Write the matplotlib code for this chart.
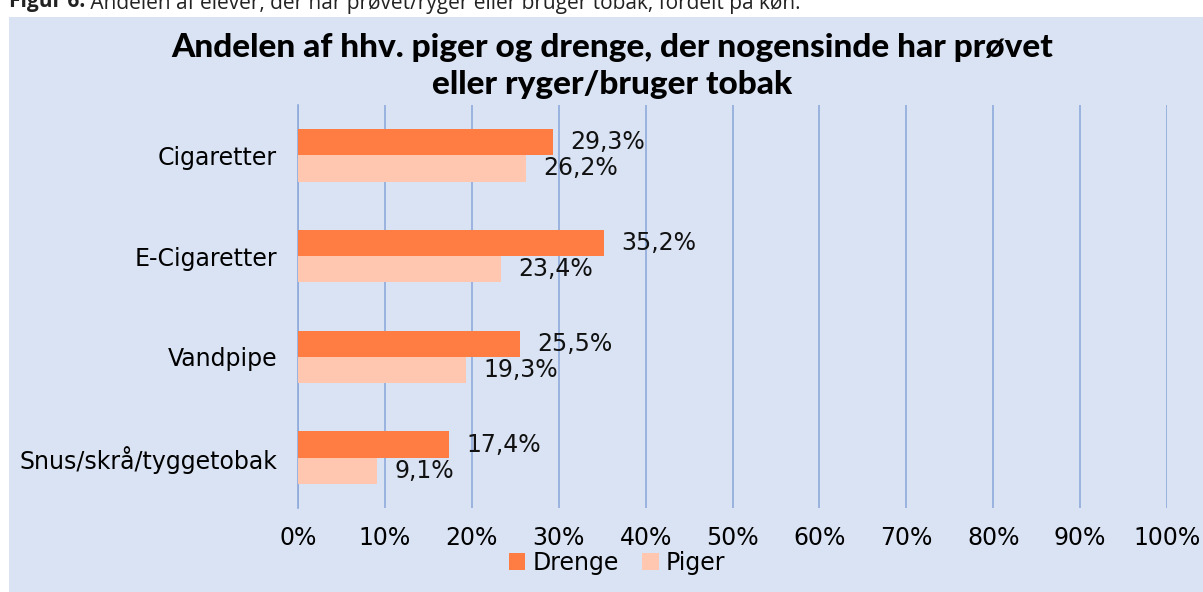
import matplotlib
matplotlib.use("Agg")
import matplotlib.pyplot as plt
from matplotlib.patches import Rectangle
from matplotlib.text import Annotation
from matplotlib.ticker import MultipleLocator, FuncFormatter

categories = ["Cigaretter", "E-Cigaretter", "Vandpipe", "Snus/skrå/tyggetobak"]
drenge = [29.3, 35.2, 25.5, 17.4]
piger = [26.2, 23.4, 19.3, 9.1]
series_names = ["Drenge", "Piger"]
title = "Andelen af hhv. piger og drenge, der nogensinde har prøvet\neller ryger/bruger tobak"
caption_bold = "Figur 6:"
caption = " Andelen af elever, der har prøvet/ryger eller bruger tobak, fordelt på køn."

c_dr = "#FF7C43"
c_pi = "#FFC6B0"
bg = "#DAE3F3"
grid_c = "#8FAADC"

plt.rcParams['font.family'] = ['DejaVu Sans']
FS = 17

fig = plt.figure(figsize=(12.03, 5.92), dpi=100)
fig.patch.set_facecolor("white")
fig.patches.append(Rectangle((9/1203, 0), 1 - 9/1203, 1 - 17/592, transform=fig.transFigure,
                             facecolor=bg, edgecolor="none", zorder=-10))
cb = fig.text(9/1203, 1 - 2/592, caption_bold, fontsize=15, va="center", ha="left", color="#222222",
              fontweight="bold", family=['Open Sans', 'DejaVu Sans'])
fig.add_artist(Annotation(caption, xy=(1, 0.5), xycoords=cb, va="center", ha="left",
                          fontsize=15, color="#222222", family=['Open Sans', 'DejaVu Sans']))

ax = fig.add_axes([298/1203, 1 - 508/592, (1167 - 298)/1203, (508 - 105)/592])
ax.set_zorder(1)
ax.set_facecolor("none")
h = 0.26
y = list(range(len(categories)))
ax.barh([i - h/2 for i in y], drenge, height=h, color=c_dr, zorder=3, label=series_names[0])
ax.barh([i + h/2 for i in y], piger, height=h, color=c_pi, zorder=3, label=series_names[1])
for i in y:
    ax.text(drenge[i] + 2.0, i - h/2, f"{drenge[i]:.1f}%".replace(".", ","), va="center", ha="left",
            fontsize=FS, color="#111111")
    ax.text(piger[i] + 2.0, i + h/2, f"{piger[i]:.1f}%".replace(".", ","), va="center", ha="left",
            fontsize=FS, color="#111111")
ax.set_xlim(0, 100)
ax.set_ylim(len(categories) - 0.5, -0.5)
ax.set_yticks(y)
ax.set_yticklabels(categories, fontsize=FS)
ax.xaxis.set_major_locator(MultipleLocator(10))
ax.xaxis.set_major_formatter(FuncFormatter(lambda v, p: f"{int(v)}%"))
ax.tick_params(axis="x", labelsize=FS, length=0, pad=13)
ax.tick_params(axis="y", length=0, pad=15)
ax.grid(axis="x", color=grid_c, linewidth=1.2, zorder=0)
ax.set_axisbelow(True)
for s in ["top", "right", "bottom"]:
    ax.spines[s].set_visible(False)
ax.spines["left"].set_color(grid_c)
ax.spines["left"].set_linewidth(1.2)

fig.text(612/1203, 1 - 66/592, title, fontsize=24, fontweight=900, ha="center", va="center",
         linespacing=1.35, family=['Lato', 'DejaVu Sans'])

handles, labels = ax.get_legend_handles_labels()
fig.legend(handles, labels, loc="center", bbox_to_anchor=(617/1203, 1 - 563/592), ncol=2,
           frameon=False, fontsize=FS, handlelength=0.7, handleheight=0.7, handletextpad=0.3,
           columnspacing=1.0, borderpad=0)

fig.savefig("out.png", dpi=100)
